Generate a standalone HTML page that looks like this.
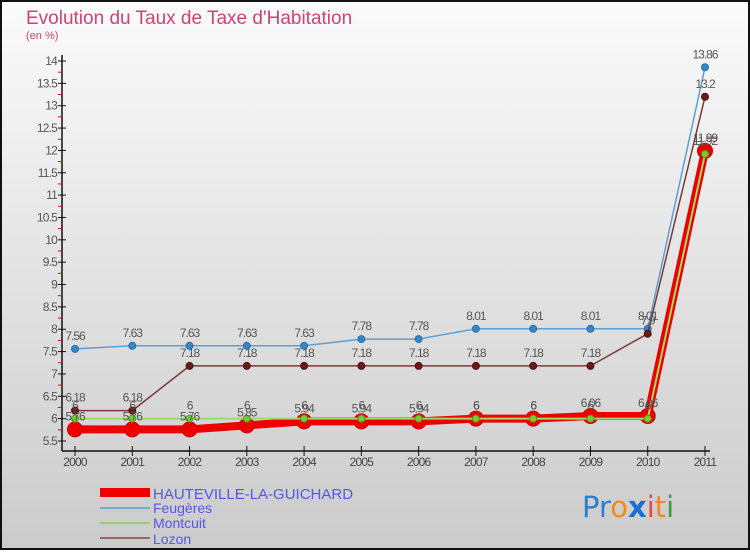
<!DOCTYPE html>
<html><head><meta charset="utf-8"><style>
body{margin:0;width:750px;height:550px;overflow:hidden;font-family:"Liberation Sans",sans-serif}
</style></head><body>
<svg id="chart" width="750" height="550" xmlns="http://www.w3.org/2000/svg" font-family="Liberation Sans, sans-serif">
<defs><linearGradient id="bg" x1="0" y1="0" x2="0" y2="1"><stop offset="0" stop-color="#fbfbfb"/><stop offset="1" stop-color="#cbcbcb"/></linearGradient></defs>
<rect x="1" y="1" width="748" height="548" fill="url(#bg)" stroke="#111" stroke-width="2"/>
<text x="26" y="24" font-size="19" fill="#cc4477">Evolution du Taux de Taxe d'Habitation</text>
<text x="26" y="39" font-size="11" fill="#cc4477">(en %)</text>
<g id="axes"></g><g id="series"></g><g id="labels"></g>
<g>
<rect x="100" y="488" width="50" height="9" fill="#ee0000"/>
<text x="153" y="499" font-size="15" fill="#5555ee">HAUTEVILLE-LA-GUICHARD</text>
<line x1="100" y1="508" x2="150" y2="508" stroke="#7aaacc" stroke-width="2"/>
<text x="153" y="513" font-size="14" fill="#5555ee">Feugères</text>
<line x1="100" y1="523" x2="150" y2="523" stroke="#99cc77" stroke-width="2"/>
<text x="153" y="528" font-size="14" fill="#5555ee">Montcuit</text>
<line x1="100" y1="538" x2="150" y2="538" stroke="#996666" stroke-width="2"/>
<text x="153" y="544" font-size="14" fill="#5555ee">Lozon</text>
</g>
<g font-size="29" font-family="DejaVu Sans, sans-serif">
<text x="582" y="517"><tspan fill="#2a7fd0">Pr</tspan><tspan fill="#f08a1a">o</tspan><tspan fill="#1a6fd0" font-weight="bold">x</tspan><tspan fill="#e44">i</tspan><tspan fill="#f08a1a">t</tspan><tspan fill="#3aa03a">i</tspan></text>
</g>
</svg>
<script>
const years=["2000","2001","2002","2003","2004","2005","2006","2007","2008","2009","2010","2011"];
const yTicks=[5.5,6,6.5,7,7.5,8,8.5,9,9.5,10,10.5,11,11.5,12,12.5,13,13.5,14];
const hauteville=[5.76,5.76,5.76,5.85,5.94,5.94,5.94,6,6,6.06,6.06,11.99];
const feugeres=[7.56,7.63,7.63,7.63,7.63,7.78,7.78,8.01,8.01,8.01,8.01,13.86];
const montcuit=[6,6,6,6,6,6,6,6,6,6,6,11.92];
const lozon=[6.18,6.18,7.18,7.18,7.18,7.18,7.18,7.18,7.18,7.18,7.9,13.2];
const NS="http://www.w3.org/2000/svg";
const xS=i=>75+i*(630/11);
const yS=v=>441-(v-5.5)*(380/8.5);
function mk(parent,tag,attrs){const e=document.createElementNS(NS,tag);for(const k in attrs)e.setAttribute(k,attrs[k]);document.getElementById(parent).appendChild(e);return e;}
let a=mk("axes","line",{x1:62,y1:55,x2:62,y2:451,stroke:"#111","stroke-width":1.5});


a=mk("axes","line",{x1:62,y1:451,x2:710,y2:451,stroke:"#111","stroke-width":1.5});


yTicks.forEach(v=>{
  const y=yS(v);
  mk("axes","line",{x1:58,y1:y,x2:66,y2:y,stroke:"#111"});
  if(v<14){mk("axes","line",{x1:58,y1:yS(v+0.25),x2:62,y2:yS(v+0.25),stroke:"#e00"});}
  const t=mk("axes","text",{x:57,y:y+4,"font-size":12,fill:"#555","text-anchor":"end","letter-spacing":"-0.8"});
  t.textContent=String(v);
  
  
});
years.forEach((yr,i)=>{
  const x=xS(i);
  mk("axes","line",{x1:x,y1:446,x2:x,y2:456,stroke:"#111"});
  const t=mk("axes","text",{x:x,y:466,"font-size":12,fill:"#444","text-anchor":"middle","letter-spacing":"-0.8"});
  t.textContent=yr;
  
  
});
function series(name,vals,color,w,r,dot,stroke){
  const p=mk("series","polyline",{points:vals.map((v,i)=>xS(i)+","+yS(v)).join(" "),fill:"none",stroke:color,"stroke-width":w,"stroke-linejoin":"round"});
  
  
  vals.forEach((v,i)=>{
    const c=mk("series","circle",{cx:xS(i),cy:yS(v),r:r,fill:dot,stroke:stroke,"stroke-width":1});
    
    
    const t=mk("labels","text",{x:xS(i),y:yS(v)-9,"font-size":12,fill:"#555","text-anchor":"middle","letter-spacing":"-1"});
    t.textContent=String(v);
    
    
  });
}
series("feugeres",feugeres,"#5aa0d8",1.5,3.5,"#3388cc","#2a6ea8");
series("lozon",lozon,"#7a3a3a",1.5,3.5,"#6b1a1a","#501010");
series("hauteville",hauteville,"#ee0000",8,7.5,"#ee0000","#cc0000");
series("montcuit",montcuit,"#99dd66",2,3.5,"#77cc33","#559922");
</script>
</body></html>
